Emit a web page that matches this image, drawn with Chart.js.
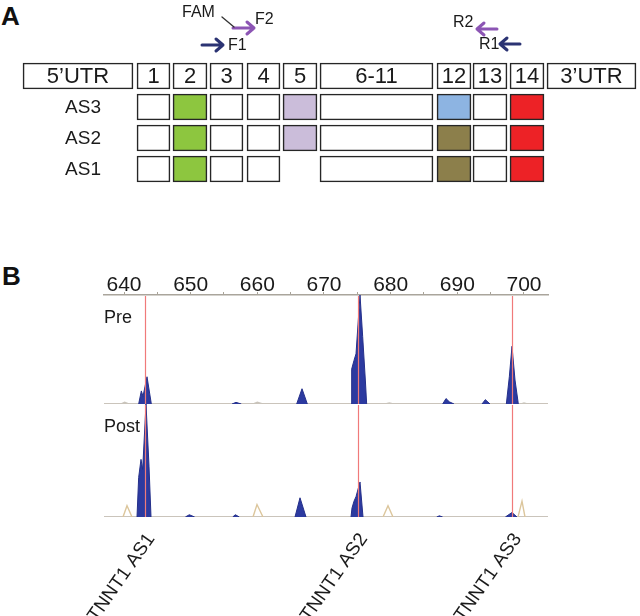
<!DOCTYPE html>
<html>
<head>
<meta charset="utf-8">
<script src="https://cdn.jsdelivr.net/npm/chart.js@4.4.1/dist/chart.umd.min.js"></script>
<style>
  html, body { margin: 0; padding: 0; background: #fff; }
  body { width: 640px; height: 616px; position: relative; overflow: hidden; font-family: 'Liberation Sans', Arial, sans-serif; }
  .panel { position: absolute; font-weight: bold; font-size: 26px; line-height: 26px; color: #111; }
  canvas { position: absolute; left: 0; }
</style>
</head>
<body>
<div class="panel" style="left:1px;top:3px">A</div>
<div class="panel" style="left:2px;top:263px">B</div>
<canvas id="chartExons" width="640" height="200" style="top:0"></canvas>
<canvas id="chartPre" width="640" height="140" style="top:265px"></canvas>
<canvas id="chartPost" width="640" height="220" style="top:396px"></canvas>
<script>
// ---- Panel A: exon map (diagram units = px along the transcript drawing)
const rowNames = ['', 'AS3', 'AS2', 'AS1'];
const exonNames = ["5\u2019UTR", '1', '2', '3', '4', '5', '6-11', '12', '13', '14', "3\u2019UTR"];
const exonStart = [23, 137, 173, 210, 247, 283, 320, 437, 473, 510, 547];
const exonEnd = [133, 170, 207, 243, 280, 317, 433, 471, 507, 544, 636];

// colores de los exones alternativos
const W = '#ffffff', GREEN = '#8dc63f', LILAC = '#cbbdda', SKY = '#8db4e2', OLIVE = '#8c7f4b', RED = '#ed2226';
const headerFill = [W, W, W, W, W, W, W, W, W, W, W];
const as3Fill = [null, W, GREEN, W, W, LILAC, W, SKY, W, RED, null];
const as2Fill = [null, W, GREEN, W, W, LILAC, W, OLIVE, W, RED, null];
const as1Fill = [null, W, GREEN, W, W, null, W, OLIVE, W, RED, null];

// primers
const primerNames = ['F1', 'F2', 'R1', 'R2'];
const primerFrom = [202, 233, 520, 497];
const primerTo = [223, 254, 500, 477];

// ---- Panel B: fragment analysis (size in bp, height in % of panel)
const sizeTicks = [640, 650, 660, 670, 680, 690, 700];
const tickMarks = [640, 645, 650, 655, 660, 665, 670, 675, 680, 685, 690, 695, 700];
const markerSizes = [643.3, 675.2, 698.3];
const markerLabels = ['TNNT1 AS1', 'TNNT1 AS2', 'TNNT1 AS3'];
const baseSize = [637, 703.6];
const baseRfu = [0, 0];

const preBlueSize = [642.2, 642.6, 642.85, 643.45, 644.1, 650,
  656.2, 656.8, 657.6, 660,
  665.9, 666.7, 667.5, 670,
  674.1, 674.15, 674.5, 674.8, 675.4, 675.8, 676.2, 676.4, 680,
  687.8, 688.3, 688.8, 689.5, 692,
  693.7, 694.2, 694.9, 696,
  697.35, 697.8, 698.2, 698.65, 699.15];
const preBlueRfu = [0, 12, 7, 25, 0, null,
  0, 1.5, 0, null,
  0, 14, 0, null,
  0, 32, 40, 46, 100, 62, 22, 0, null,
  0, 5, 2, 0, null,
  0, 4, 0, null,
  0, 25, 53, 22, 0];
const preStdSize = [639.6, 640.1, 640.7, 645, 659.4, 660, 660.8, 670, 679.2, 679.8, 680.4, 690, 699.6, 700, 700.5];
const preStdRfu = [0, 1.5, 0, null, 0, 1.5, 0, null, 0, 1, 0, null, 0, 1, 0];

const postBlueSize = [641.95, 642.2, 642.55, 642.8, 643.3, 643.75, 644.05, 646,
  649.2, 649.8, 650.6, 653,
  656.3, 656.7, 657.3, 660,
  665.65, 666.4, 667.3, 670,
  674.05, 674.2, 674.5, 674.8, 675.4, 675.85, 680,
  686.9, 687.3, 687.8, 690,
  697.2, 698.2, 698.95];
const postBlueRfu = [0, 35, 51, 42, 100, 45, 0, null,
  0, 2, 0, null,
  0, 2, 0, null,
  0, 17, 0, null,
  0, 8, 14, 18, 31, 0, null,
  0, 1, 0, null,
  0, 4, 0];
const postStdSize = [639.85, 640.45, 641.2, 650, 659.35, 659.95, 660.85, 670, 678.85, 679.6, 680.35, 690, 699.1, 699.7, 700.15];
const postStdRfu = [0, 10, 0, null, 0, 11, 0, null, 0, 10, 0, null, 0, 14, 0];

Chart.defaults.font.family = "'Liberation Sans', Arial, sans-serif";
Chart.defaults.color = '#1a1a1a';

function points(sizes, rfu) {
  return sizes.map((s, i) => ({ x: s, y: rfu[i] }));
}

// texto dentro de las cajas y nombres de isoformas
const exonLabels = {
  id: 'exonLabels',
  afterDatasetsDraw(chart) {
    const ctx = chart.ctx, xs = chart.scales.x, ys = chart.scales.y;
    ctx.save();
    ctx.fillStyle = '#1a1a1a';
    ctx.textBaseline = 'middle';
    ctx.font = "22px 'Liberation Sans', Arial, sans-serif";
    ctx.textAlign = 'center';
    exonNames.forEach((name, i) => {
      ctx.fillText(name, xs.getPixelForValue((exonStart[i] + exonEnd[i]) / 2), ys.getPixelForValue(0) + 1);
    });
    ctx.font = "19px 'Liberation Sans', Arial, sans-serif";
    ctx.textAlign = 'right';
    for (let i = 1; i < rowNames.length; i++) {
      ctx.fillText(rowNames[i], 101, ys.getPixelForValue(i) + 1);
    }
    ctx.restore();
  }
};

// flechas de los primers
const primerArrows = {
  id: 'primerArrows',
  afterDatasetsDraw(chart) {
    const ctx = chart.ctx, xs = chart.scales.x;
    const rowY = { F1: 45, F2: 28, R1: 44, R2: 29 };
    const colors = { F1: '#2b3373', F2: '#8c55b4', R1: '#2b3373', R2: '#8c55b4' };
    ctx.save();
    ctx.lineCap = 'round';
    ctx.lineJoin = 'round';
    primerNames.forEach((name, i) => {
      const x0 = xs.getPixelForValue(primerFrom[i]);
      const x1 = xs.getPixelForValue(primerTo[i]);
      const y = rowY[name];
      const dir = x1 > x0 ? 1 : -1;
      ctx.strokeStyle = colors[name];
      ctx.lineWidth = 3;
      ctx.beginPath();
      ctx.moveTo(x0, y);
      ctx.lineTo(x1, y);
      ctx.moveTo(x1 - dir * 7, y - 6);
      ctx.lineTo(x1, y);
      ctx.lineTo(x1 - dir * 7, y + 6);
      ctx.stroke();
    });
    // FAM label + tether to F2
    ctx.strokeStyle = '#333';
    ctx.lineWidth = 1.3;
    ctx.beginPath();
    ctx.moveTo(222, 17);
    ctx.lineTo(234, 27);
    ctx.stroke();
    ctx.fillStyle = '#1a1a1a';
    ctx.font = "16px 'Liberation Sans', Arial, sans-serif";
    ctx.textBaseline = 'middle';
    ctx.textAlign = 'left';
    ctx.fillText('FAM', 182, 13);
    ctx.fillText('F2', 255, 20);
    ctx.fillText('F1', 228, 46);
    ctx.fillText('R2', 453, 23);
    ctx.fillText('R1', 479, 45);
    ctx.restore();
  }
};

new Chart(document.getElementById('chartExons'), {
  type: 'bar',
  data: {
    labels: rowNames,
    datasets: exonNames.map((name, i) => {
      const span = [exonStart[i], exonEnd[i]];
      const fills = [headerFill[i], as3Fill[i], as2Fill[i], as1Fill[i]];
      return {
        label: name,
        data: fills.map(f => (f ? span : null)),
        backgroundColor: fills.map(f => f || W),
        borderColor: '#262626',
        borderWidth: 1.6,
        borderSkipped: false,
        barThickness: 26,
        grouped: false
      };
    })
  },
  options: {
    responsive: false,
    animation: false,
    events: [],
    indexAxis: 'y',
    layout: { padding: { left: 0, right: 0, top: 60.5, bottom: 15.5 } },
    scales: {
      x: { type: 'linear', min: 0, max: 640, display: false },
      y: { display: false }
    },
    plugins: { legend: { display: false }, tooltip: { enabled: false } }
  },
  plugins: [exonLabels, primerArrows]
});

// líneas rojas de los tamaños esperados + rótulo del panel
function markerPlugin(title) {
  return {
    id: 'markers',
    afterDatasetsDraw(chart) {
      const ctx = chart.ctx, xs = chart.scales.x, a = chart.chartArea;
      ctx.save();
      ctx.strokeStyle = '#f07a7a';
      ctx.lineWidth = 1.2;
      markerSizes.forEach(s => {
        const x = Math.round(xs.getPixelForValue(s)) - 0.5;
        ctx.beginPath();
        ctx.moveTo(x, a.top + 1);
        ctx.lineTo(x, a.bottom);
        ctx.stroke();
      });
      ctx.fillStyle = '#1a1a1a';
      ctx.font = "18px 'Liberation Sans', Arial, sans-serif";
      ctx.textAlign = 'left';
      ctx.textBaseline = 'alphabetic';
      ctx.fillText(title, a.left, a.top + 28);
      ctx.restore();
    }
  };
}

function traceDatasets(blueSize, blueRfu, stdSize, stdRfu, stdColor) {
  return [
    { data: points(baseSize, baseRfu), borderColor: '#b8b1a4', borderWidth: 1.5, pointRadius: 0, fill: false, order: 3 },
    { data: points(stdSize, stdRfu), borderColor: stdColor, borderWidth: 1.4, pointRadius: 0, fill: false, order: 2 },
    { data: points(blueSize, blueRfu), borderColor: '#25308a', backgroundColor: '#2c3aa0', borderWidth: 1, pointRadius: 0, fill: 'origin', order: 1 }
  ];
}

const yHidden = { display: false, min: 0, max: 100 };

new Chart(document.getElementById('chartPre'), {
  type: 'line',
  data: { datasets: traceDatasets(preBlueSize, preBlueRfu, preStdSize, preStdRfu, '#c9c4bb') },
  options: {
    responsive: false,
    animation: false,
    events: [],
    layout: { padding: { left: 104, right: 92, top: 0, bottom: 1 } },
    scales: {
      x: {
        type: 'linear', position: 'top', min: 637, max: 703.6,
        afterBuildTicks: s => { s.ticks = tickMarks.map(v => ({ value: v })); },
        afterFit: s => { s.height = 30; },
        ticks: {
          autoSkip: false, maxRotation: 0, padding: -6,
          font: { size: 21 }, color: '#1a1a1a',
          callback: v => (sizeTicks.includes(v) ? String(v) : '')
        },
        grid: { drawOnChartArea: false, tickLength: 3, color: '#a8a398' },
        border: { color: '#aaa59c', width: 1.5 }
      },
      y: yHidden
    },
    plugins: { legend: { display: false }, tooltip: { enabled: false } }
  },
  plugins: [markerPlugin('Pre')]
});

new Chart(document.getElementById('chartPost'), {
  type: 'line',
  data: { datasets: traceDatasets(postBlueSize, postBlueRfu, postStdSize, postStdRfu, '#dcc69c') },
  options: {
    responsive: false,
    animation: false,
    events: [],
    layout: { padding: { left: 104, right: 92, top: 8, bottom: 0 } },
    scales: {
      x: {
        type: 'linear', position: 'bottom', min: 637, max: 703.6,
        afterBuildTicks: s => { s.ticks = markerSizes.map(v => ({ value: v })); },
        afterFit: s => { s.height = 99; },
        ticks: {
          autoSkip: false, minRotation: 55, maxRotation: 55, padding: 4, labelOffset: 5,
          font: { size: 19 }, color: '#1a1a1a',
          callback: (v, i) => markerLabels[i]
        },
        grid: { display: false },
        border: { display: false }
      },
      y: yHidden
    },
    plugins: { legend: { display: false }, tooltip: { enabled: false } }
  },
  plugins: [markerPlugin('Post')]
});
</script>
</body>
</html>
